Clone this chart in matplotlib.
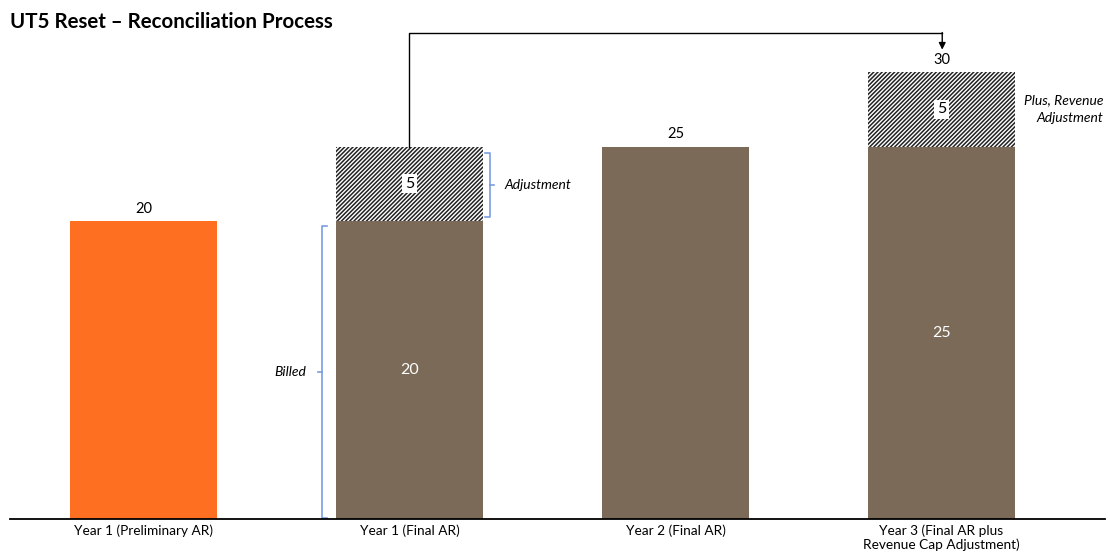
import matplotlib.pyplot as plt
from matplotlib.lines import Line2D

categories = ["Year 1 (Preliminary AR)", "Year 1 (Final AR)", "Year 2 (Final AR)",
              "Year 3 (Final AR plus\nRevenue Cap Adjustment)"]
base_values = [20, 20, 25, 25]
adjust_values = [0, 5, 0, 5]
bar_colors = ["#FF6F21", "#7B6A58", "#7B6A58", "#7B6A58"]

plt.rcParams["font.family"] = ["Lato", "DejaVu Sans"]
plt.rcParams["hatch.linewidth"] = 1.1

fig = plt.figure(figsize=(11.1, 5.56), dpi=100)
ax = fig.add_axes([10 / 1110, 37 / 556, 1095 / 1110, 519 / 556])
ax.set_xlim(-0.502, 3.615)
ax.set_ylim(0, 519 / 14.9)

x = list(range(len(categories)))
ax.bar(x, base_values, width=0.553, color=bar_colors, zorder=2)
ax.bar(x, adjust_values, width=0.553, bottom=base_values, color="white",
       edgecolor="#222222", hatch="////////", linewidth=0, zorder=2)

# totals above bars
for i, (b, a) in enumerate(zip(base_values, adjust_values)):
    if i == 1:
        continue
    ax.text(i, b + a + 0.35, str(b + a), ha="center", va="bottom", fontsize=10.5)

# labels inside bars
for i in (1, 3):
    ax.text(i, base_values[i] / 2, str(base_values[i]), ha="center", va="center",
            color="white", fontsize=11.5)
    ax.text(i, base_values[i] + adjust_values[i] / 2, str(adjust_values[i]),
            ha="center", va="center", fontsize=11.5,
            bbox=dict(facecolor="white", edgecolor="none", pad=2))

# braces
brace_c = "#7A9DE0"
bx, h = 0.671, 0.019
ax.add_line(Line2D([bx + h, bx, bx, bx + h], [19.65, 19.65, 0.05, 0.05], color=brace_c, lw=1.2))
ax.add_line(Line2D([bx, bx - h * 0.8], [9.85, 9.85], color=brace_c, lw=1.2))
ax.text(bx - 0.06, 9.85, "Billed", ha="right", va="center", style="italic", fontsize=10)

ax2x = 1.303
ax.add_line(Line2D([ax2x - h, ax2x, ax2x, ax2x - h], [24.55, 24.55, 20.25, 20.25], color=brace_c, lw=1.2))
ax.add_line(Line2D([ax2x, ax2x + h * 0.8], [22.4, 22.4], color=brace_c, lw=1.2))
ax.text(ax2x + 0.055, 22.4, "Adjustment", ha="left", va="center", style="italic", fontsize=10)

ax.text(3.609, 27.5, "Plus, Revenue\nAdjustment", ha="right", va="center", style="italic",
        fontsize=10, multialignment="right", linespacing=1.55)

# connector arrow from Year 1 adjustment to Year 3
ax.plot([1, 1, 3.003], [25.0, 32.6, 32.6], color="black", lw=1)
ax.annotate("", xy=(3.003, 31.5), xytext=(3.003, 32.65),
            arrowprops=dict(arrowstyle="-|>", color="black", lw=1, mutation_scale=10,
                            shrinkA=0, shrinkB=0))

for s in ("top", "right", "left"):
    ax.spines[s].set_visible(False)
ax.spines["bottom"].set_linewidth(1.3)
ax.set_yticks([])
ax.set_xticks(x)
ax.set_xticklabels(categories, fontsize=9.8, linespacing=1.1)
ax.tick_params(axis="x", length=0, pad=4)

fig.text(10 / 1110, 1 - 22 / 556, "UT5 Reset \u2013 Reconciliation Process",
         fontsize=14.8, fontweight="bold", ha="left", va="center")

fig.savefig("out.png", dpi=100)
